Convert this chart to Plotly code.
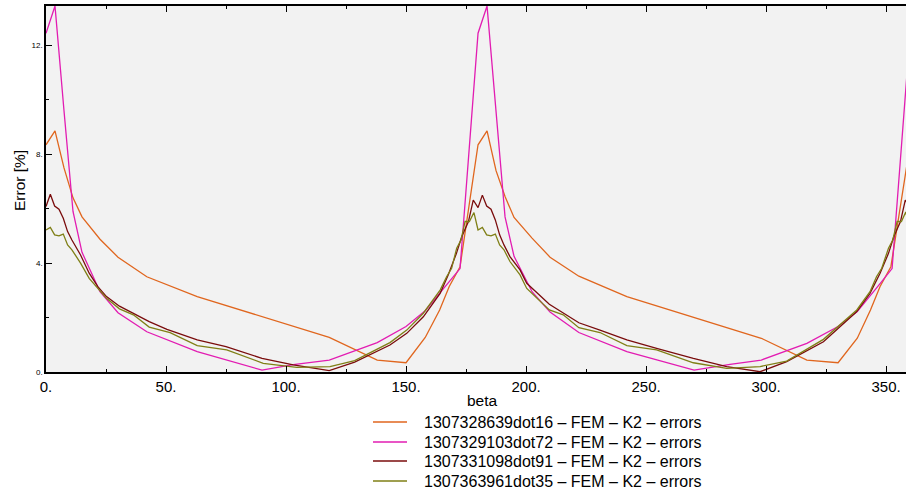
import plotly.graph_objects as go

# ---- data ----
series_names = [
    "1307328639dot16 \u2013 FEM \u2013 K2 \u2013 errors",
    "1307329103dot72 \u2013 FEM \u2013 K2 \u2013 errors",
    "1307331098dot91 \u2013 FEM \u2013 K2 \u2013 errors",
    "1307363961dot35 \u2013 FEM \u2013 K2 \u2013 errors",
]

beta_orange = [0, 3.75, 7.5, 11.25, 15, 22.5, 30, 42, 63, 90, 118, 138, 150, 158, 164, 168, 172.5,
               180, 183.75, 187.5, 191.25, 195, 202.5, 210, 222, 242, 270, 298, 317, 330, 338, 343.5,
               347.5, 352, 360]
err_orange = [8.35, 8.86, 7.5, 6.4, 5.7, 4.88, 4.22, 3.5, 2.77, 2.02, 1.27, 0.44, 0.34, 1.27, 2.28, 3.14, 3.87,
              8.35, 8.86, 7.4, 6.45, 5.68, 4.92, 4.22, 3.52, 2.77, 2.0, 1.24, 0.44, 0.34, 1.24, 2.28,
              3.14, 3.87, 8.35]

beta_magenta = [0, 3.75, 7.5, 11.25, 15, 22.5, 30, 42, 63, 90, 103, 118, 138, 150, 158, 164, 168, 172.5,
                180, 183.75, 187.5, 191.25, 195, 202.5, 210, 222, 242, 270, 285, 298, 317, 330, 338,
                343.5, 348, 352.5, 360]
err_magenta = [12.45, 13.45, 9.6, 5.9, 4.4, 2.95, 2.18, 1.48, 0.75, 0.07, 0.27, 0.44, 1.08, 1.67, 2.25, 2.87,
               3.32, 3.8, 12.45, 13.45, 9.5, 5.7, 4.25, 2.95, 2.2, 1.45, 0.75, 0.07, 0.28, 0.44, 1.05,
               1.67, 2.22, 2.8, 3.3, 3.8, 12.45]

beta_darkred = [0, 1.8, 3.6, 5.4, 7.2, 9.0, 10.8, 12.6, 14.4, 18, 21.6, 25.2, 30.6, 36, 43, 50.4, 63, 75,
                90, 103, 118, 128.6, 143.3, 150.3, 157.2, 164.2, 167.6, 171, 173.2, 176, 178,
                180, 181.8, 183.6, 185.4, 187.2, 189, 190.8, 193.3, 197.5, 200.3, 209.7, 222, 230.8,
                242, 254.4, 269.7, 283.6, 297.5, 308.6, 323.9, 337.8, 343.3, 347.5, 351, 353.2, 356,
                358, 360]
err_darkred = [6.08, 6.53, 6.1, 5.98, 5.65, 5.16, 4.85, 4.6, 4.3, 3.63, 3.14, 2.77, 2.42, 2.17, 1.85, 1.57,
               1.18, 0.93, 0.5, 0.26, 0.05, 0.36, 0.99, 1.42, 2.03, 2.89, 3.57, 4.36, 4.97, 5.53, 6.32,
               6.04, 6.5, 6.1, 5.98, 5.59, 5.04, 4.67, 4.24, 3.75, 3.26, 2.49, 1.81, 1.54, 1.18, 0.87,
               0.5, 0.2, 0.01, 0.38, 1.11, 2.22, 2.89, 3.63, 4.36, 4.97, 5.53, 6.32, 6.04]

beta_olive = [0, 1.8, 3.6, 5.4, 7.2, 9.0, 10.8, 12.6, 14.4, 18, 21.6, 25.2, 30.6, 36.4, 43, 51.7, 63, 75.3,
              90.5, 104.5, 118.3, 128.6, 143.3, 150.3, 157.2, 164.2, 166.9, 169, 171.1, 172.9, 174.6,
              176.4, 178.3, 180, 181.8, 183.6, 185.4, 187.2, 189, 190.8, 193.3, 197.5, 200.3, 209.7,
              215.5, 222, 230.8, 242, 254.4, 269.7, 283.6, 297.5, 308.6, 323.9, 337.8, 343.3, 346,
              348.2, 351, 352.8, 354.6, 356.4, 358.2, 360]
err_olive = [5.22, 5.31, 5.04, 5.0, 5.07, 4.67, 4.49, 4.25, 4.0, 3.44, 3.07, 2.71, 2.32, 2.1, 1.65, 1.45,
             0.97, 0.81, 0.32, 0.17, 0.2, 0.42, 1.08, 1.54, 2.16, 3.01, 3.5, 3.81, 4.55, 4.85, 5.53,
             5.53, 5.86, 5.22, 5.31, 5.04, 5.0, 5.07, 4.67, 4.49, 4.06, 3.57, 3.07, 2.28, 2.1, 1.63,
             1.45, 0.97, 0.81, 0.34, 0.13, 0.2, 0.4, 1.2, 2.28, 2.95, 3.5, 3.81, 4.55, 4.85, 5.53,
             5.53, 5.88, 5.22]

x_ticks = [0, 50, 100, 150, 200, 250, 300, 350]
x_tick_labels = ["0.", "50.", "100.", "150.", "200.", "250.", "300.", "350."]
x_minor = [25, 75, 125, 175, 225, 275, 325]
y_ticks = [0, 4, 8, 12]
y_tick_labels = ["0.", "4.", "8.", "12."]
y_minor = [2, 6, 10]

colors = ["#e0661e", "#e21cb2", "#7a0c0c", "#7f7f16"]

FONT = "Liberation Sans, Arial, sans-serif"

# plot-area geometry in pixels (used to place the legend / titles in paper units)
L, R, T, B = 46, 906, 6, 372
PW, PH = R - L, B - T


def px_x(p):
    return (p - L) / PW


def px_y(p):
    return (B - p) / PH


fig = go.Figure()
for name, xs, ys, c in zip(series_names,
                           [beta_orange, beta_magenta, beta_darkred, beta_olive],
                           [err_orange, err_magenta, err_darkred, err_olive],
                           colors):
    fig.add_trace(go.Scatter(x=xs, y=ys, mode="lines", name=name, showlegend=False,
                             line=dict(color=c, width=1.3)))

# legend drawn below the plot (sample line + label for each series)
legend_rows = [422, 442, 461, 481]
shapes = []
annotations = []
for name, c, row in zip(series_names, colors, legend_rows):
    shapes.append(dict(type="line", xref="paper", yref="paper",
                       x0=px_x(373), x1=px_x(407), y0=px_y(row), y1=px_y(row),
                       line=dict(color=c, width=1.3)))
    annotations.append(dict(text=name, xref="paper", yref="paper",
                            x=px_x(422), y=px_y(row + 0.5), xanchor="left", yanchor="middle",
                            showarrow=False, font=dict(size=16, family=FONT, color="black")))

annotations += [
    dict(text="beta", xref="paper", yref="paper", x=px_x(482), y=px_y(400),
         xanchor="center", yanchor="middle", showarrow=False,
         font=dict(size=15.5, family=FONT)),
    dict(text="Error [%]", xref="paper", yref="paper", x=px_x(19), y=px_y(180),
         xanchor="center", yanchor="middle", showarrow=False, textangle=-90,
         font=dict(size=15.5, family=FONT)),
]

fig.update_layout(
    width=906, height=493,
    margin=dict(l=L, r=906 - R, t=T, b=493 - B, autoexpand=False),
    paper_bgcolor="white",
    plot_bgcolor="#f2f2f2",
    font=dict(family=FONT, color="black"),
    showlegend=False,
    xaxis=dict(range=[0, 358.3], tickvals=x_ticks, ticktext=x_tick_labels,
               ticks="inside", ticklen=6, tickwidth=1, tickcolor="black",
               showline=True, linecolor="black", linewidth=2, mirror="ticks",
               showgrid=False, zeroline=False,
               tickfont=dict(size=15, family=FONT),
               minor=dict(tickvals=x_minor, ticks="inside", ticklen=3, tickcolor="black")),
    yaxis=dict(range=[0, 13.45], tickvals=y_ticks, ticktext=y_tick_labels,
               ticks="inside", ticklen=6, tickwidth=1, tickcolor="black",
               showline=True, linecolor="black", linewidth=1.5,
               showgrid=False, zeroline=False,
               tickfont=dict(size=8, family=FONT),
               minor=dict(tickvals=y_minor, ticks="inside", ticklen=3, tickcolor="black")),
    shapes=shapes,
    annotations=annotations,
)

fig.write_html("out.html", config={"displayModeBar": False},
               post_script="document.body.style.margin='0';document.body.style.overflow='hidden';")
